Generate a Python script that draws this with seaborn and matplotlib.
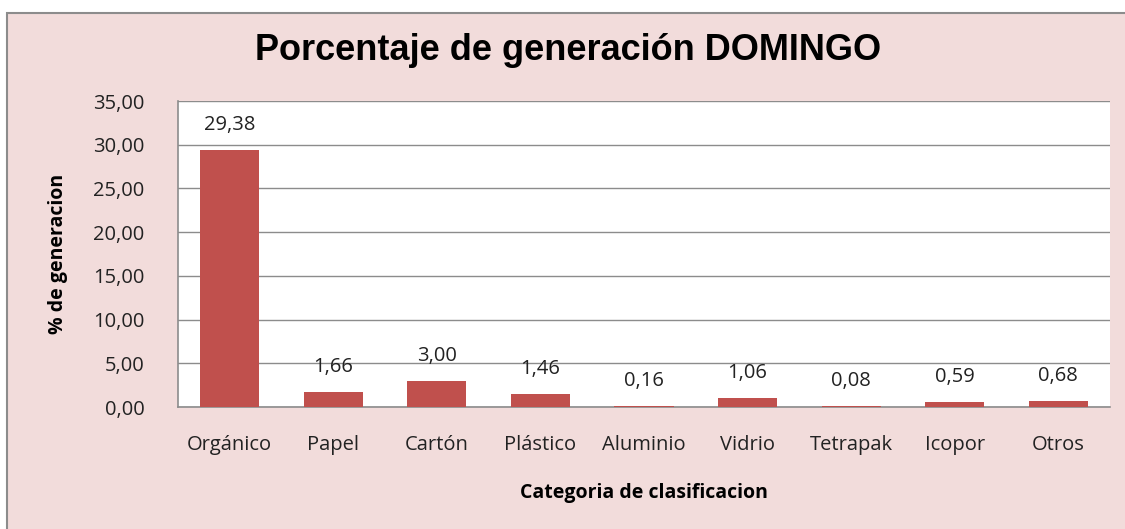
import numpy as np
import pandas as pd
import matplotlib
matplotlib.use('Agg')
import matplotlib.pyplot as plt
import seaborn as sns
from matplotlib.patches import Rectangle

# datos
categorias = ['Orgánico', 'Papel', 'Cartón', 'Plástico', 'Aluminio', 'Vidrio', 'Tetrapak', 'Icopor', 'Otros']
porcentaje = [29.38, 1.66, 3.00, 1.46, 0.16, 1.06, 0.08, 0.59, 0.68]
yticks = [0, 5, 10, 15, 20, 25, 30, 35]

df = pd.DataFrame({'Categoria': categorias, 'Porcentaje': porcentaje})

sns.set_style('white')
plt.rcParams['font.family'] = ['Open Sans', 'DejaVu Sans']

fig = plt.figure(figsize=(11.25, 5.29), dpi=100)
fig.patch.set_facecolor('white')
# fondo rosado con borde gris
fondo = Rectangle((7/1125, -0.05), 1.1, 1 - 13/529 + 0.05, transform=fig.transFigure,
                  facecolor='#F2DCDB', edgecolor='#8C8C8C', linewidth=1.5, zorder=-5)
fig.patches.append(fondo)

ax = fig.add_axes([178/1125, 1 - 407/529, (1110 - 178)/1125, (407 - 101)/529])
ax.set_zorder(2)
ax.set_facecolor('white')

sns.barplot(data=df, x='Categoria', y='Porcentaje', color='#C0504D', width=0.57,
            saturation=1, linewidth=0, ax=ax, zorder=3)

ax.set_ylim(0, 35)
ax.set_yticks(yticks)
ax.set_yticklabels([f'{v:.2f}'.replace('.', ',') for v in yticks], fontsize=14.5, color='#222222')
ax.tick_params(axis='x', labelsize=14.5, colors='#222222', length=0, pad=20)
ax.tick_params(axis='y', length=0, pad=24)
ax.yaxis.grid(True, color='#8C8C8C', linewidth=1)
ax.set_axisbelow(True)
for s in ['top', 'right']:
    ax.spines[s].set_visible(False)
for s in ['left', 'bottom']:
    ax.spines[s].set_color('#8C8C8C')
    ax.spines[s].set_linewidth(1.2)

for i, v in enumerate(porcentaje):
    ax.annotate(f'{v:.2f}'.replace('.', ','), (i, v), xytext=(0, 18), textcoords='offset points',
                ha='center', va='center', fontsize=14.5, color='#222222')

ax.set_xlabel('Categoria de clasificacion', fontsize=14, fontweight='bold', labelpad=20, color='black')
ax.set_ylabel('% de generacion', fontsize=14, fontweight='bold', labelpad=18, color='black')

fig.text(568/1125, 1 - 50/529, 'Porcentaje de generación DOMINGO', ha='center', va='center',
         fontsize=26, fontweight='bold', color='black', family=['Liberation Sans', 'DejaVu Sans'])

fig.savefig('out.png', dpi=100)
